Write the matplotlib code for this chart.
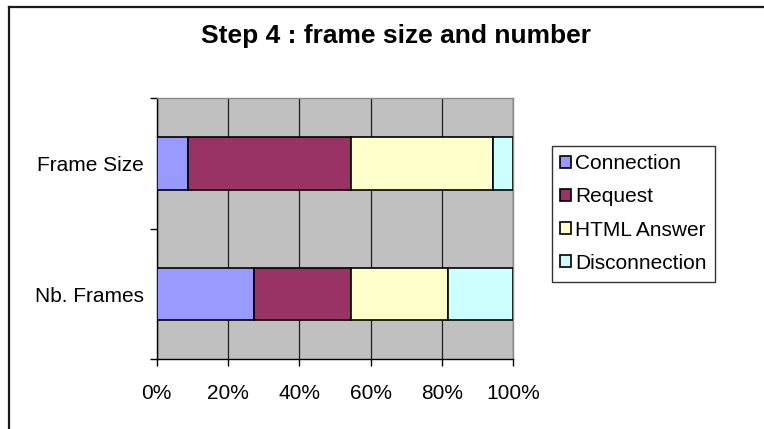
import matplotlib
matplotlib.use("Agg")
import matplotlib.pyplot as plt
from matplotlib.lines import Line2D
import numpy as np

plt.rcParams['font.family'] = ['Liberation Sans', 'DejaVu Sans']

# Categories, bottom to top on the vertical axis
categories = ['Nb. Frames', 'Frame Size']
series_names = ['Connection', 'Request', 'HTML Answer', 'Disconnection']
series_colors = ['#9999FF', '#993366', '#FFFFCC', '#CCFFFF']

# Share of each step (Nb. Frames as frame counts, Frame Size in percent)
connection = [3, 8.9]
request = [3, 45.6]
html_answer = [3, 39.9]
disconnection = [2, 5.6]

x_ticks = [0, 20, 40, 60, 80, 100]
x_tick_labels = ['0%', '20%', '40%', '60%', '80%', '100%']

W, H = 764, 429
fig = plt.figure(figsize=(W / 100, H / 100), dpi=100)
fig.patch.set_facecolor('white')

# plot area in pixel coordinates
left, right, top, bottom = 156.7, 513.3, 98.3, 359.3
ax = fig.add_axes([left / W, 1 - bottom / H, (right - left) / W, (bottom - top) / H])
ax.set_facecolor('#C0C0C0')

data = np.array([connection, request, html_answer, disconnection], dtype=float)
shares = data / data.sum(axis=0) * 100
y = np.arange(len(categories))
cum = np.zeros(len(categories))
for name, color, vals in zip(series_names, series_colors, shares):
    ax.barh(y, vals, left=cum, height=0.4, color=color, edgecolor='black',
            linewidth=1.2, label=name, zorder=3)
    cum += vals

ax.set_xlim(0, 100)
ax.set_ylim(-0.5, len(categories) - 0.5)

ax.set_xticks(x_ticks)
ax.set_xticklabels(x_tick_labels, fontsize=15)
ax.tick_params(axis='x', direction='out', length=5, width=1, color='black', pad=12.5)
ax.xaxis.grid(True, color='#202020', linewidth=0.9, zorder=1)
ax.set_axisbelow(True)

ax.set_yticks(y)
ax.set_yticklabels(categories, fontsize=15)
ax.tick_params(axis='y', which='major', length=0, pad=9.5)
ax.set_yticks(np.arange(-0.5, len(categories), 1.0), minor=True)
ax.tick_params(axis='y', which='minor', direction='out', length=5, width=1, color='black')

for side in ('left', 'bottom'):
    ax.spines[side].set_color('black')
    ax.spines[side].set_linewidth(1.0)
for side in ('top', 'right'):
    ax.spines[side].set_color('#8A8A8A')
    ax.spines[side].set_linewidth(1.0)

# chart title
fig.text(396 / W, 1 - 43.5 / H, 'Step 4 : frame size and number', ha='center',
         va='baseline', fontsize=19, fontweight='bold')

# legend
leg = fig.legend(loc='center left', bbox_to_anchor=(551.7 / W, 1 - 213.5 / H),
                 fontsize=15, frameon=True, fancybox=False, edgecolor='black',
                 handlelength=0.5, handleheight=0.5, handletextpad=0.2,
                 labelspacing=0.68, borderpad=0.42, borderaxespad=0)
leg.get_frame().set_linewidth(1.0)

# chart area border
fig.add_artist(Line2D([9 / W, 9 / W], [0, 1 - 7 / H], transform=fig.transFigure,
                      color='#1A1A1A', linewidth=1.6))
fig.add_artist(Line2D([9 / W, 1], [1 - 7 / H, 1 - 7 / H], transform=fig.transFigure,
                      color='#1A1A1A', linewidth=1.6))

fig.savefig('out.png', dpi=100)
